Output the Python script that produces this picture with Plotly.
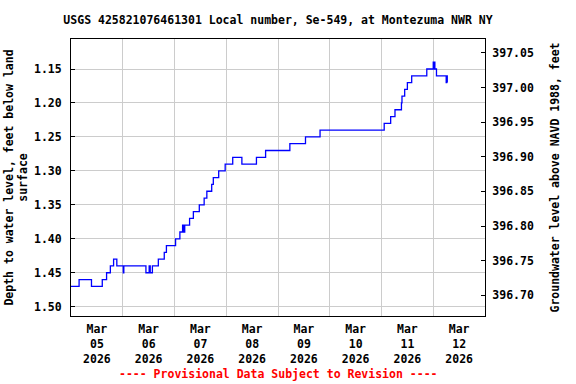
import plotly.graph_objects as go

# ---- data ----
times = [
    "2026-03-05 00:00", "2026-03-05 03:45", "2026-03-05 09:30", "2026-03-05 14:30",
    "2026-03-05 16:30", "2026-03-05 18:15", "2026-03-05 19:45", "2026-03-05 21:15",
    "2026-03-06 00:15", "2026-03-06 00:30", "2026-03-06 10:45", "2026-03-06 12:15",
    "2026-03-06 12:45", "2026-03-06 13:45", "2026-03-06 16:30", "2026-03-06 19:15",
    "2026-03-06 20:15", "2026-03-07 00:30", "2026-03-07 02:30", "2026-03-07 03:45",
    "2026-03-07 04:00", "2026-03-07 04:15", "2026-03-07 04:30", "2026-03-07 04:45",
    "2026-03-07 07:00", "2026-03-07 08:45", "2026-03-07 11:30", "2026-03-07 13:45",
    "2026-03-07 15:00", "2026-03-07 17:15", "2026-03-07 18:00", "2026-03-07 20:30",
    "2026-03-07 23:30", "2026-03-08 03:00", "2026-03-08 07:15", "2026-03-08 14:00",
    "2026-03-08 18:15", "2026-03-09 05:30", "2026-03-09 12:45", "2026-03-09 19:30",
    "2026-03-11 01:15", "2026-03-11 04:15", "2026-03-11 06:15", "2026-03-11 09:15",
    "2026-03-11 09:30", "2026-03-11 10:45", "2026-03-11 12:00", "2026-03-11 14:00",
    "2026-03-11 21:00", "2026-03-12 00:00", "2026-03-12 00:15", "2026-03-12 00:30",
    "2026-03-12 00:45", "2026-03-12 01:30", "2026-03-12 06:00", "2026-03-12 06:15",
    "2026-03-12 06:30",
]
depth_ft = [
    1.47, 1.46, 1.47, 1.46,
    1.45, 1.44, 1.43, 1.44,
    1.45, 1.44, 1.45, 1.44,
    1.45, 1.44, 1.43, 1.42,
    1.41, 1.40, 1.39, 1.38,
    1.39, 1.38, 1.39, 1.38,
    1.37, 1.36, 1.35, 1.34,
    1.33, 1.32, 1.31, 1.30,
    1.29, 1.28, 1.29, 1.28,
    1.27, 1.26, 1.25, 1.24,
    1.23, 1.22, 1.21, 1.20,
    1.19, 1.18, 1.17, 1.16,
    1.15, 1.14, 1.15, 1.14,
    1.15, 1.16, 1.17, 1.16,
    1.17,
]
left_ticks = [1.15, 1.20, 1.25, 1.30, 1.35, 1.40, 1.45, 1.50]
right_ticks = [396.70, 396.75, 396.80, 396.85, 396.90, 396.95, 397.00, 397.05]

title_text = "USGS 425821076461301 Local number, Se-549, at Montezuma NWR NY"
left_title = "Depth to water level, feet below land<br>surface"
right_title = "Groundwater level above NAVD 1988, feet"
footer = "---- Provisional Data Subject to Revision ----"

FONT = "DejaVu Sans Mono"
FS = 11.5

fig = go.Figure()
fig.add_trace(go.Scatter(
    x=times, y=depth_ft, mode="lines", line=dict(color="#0000ff", width=1.3, shape="hv"),
    showlegend=False, hoverinfo="x+y",
))
# invisible trace to activate the right-hand axis
fig.add_trace(go.Scatter(
    x=[times[0]], y=[right_ticks[0]], yaxis="y2", mode="markers",
    marker=dict(opacity=0), showlegend=False, hoverinfo="skip",
))

fig.update_layout(
    width=576, height=384,
    margin=dict(l=71, r=91, t=39, b=68, autoexpand=False),
    paper_bgcolor="white", plot_bgcolor="white",
    font=dict(family=FONT, size=FS, color="black", weight="bold"),
    title=dict(text=title_text, x=0.5, xref="paper", xanchor="center",
               y=1 - 20 / 384, yanchor="middle", automargin=False,
               font=dict(family=FONT, size=FS, color="black", weight="bold")),
    showlegend=False,
    xaxis=dict(
        type="date", range=["2026-03-05 00:00", "2026-03-13 00:00"],
        tick0="2026-03-05", dtick=86400000, ticklabelmode="period",
        tickformat="%b<br>%d<br>%Y", ticks="", showgrid=True, gridcolor="#cccccc",
        gridwidth=1, showline=True, linecolor="black", linewidth=1, mirror=True,
        tickfont=dict(family=FONT, size=FS, color="black", weight="bold"),
        ticklabelstandoff=2, zeroline=False, automargin=False,
    ),
    yaxis=dict(
        range=[1.5137, 1.1058], tickvals=left_ticks, tickformat=".2f",
        ticks="inside", ticklen=4, tickcolor="black", showgrid=True,
        gridcolor="#cccccc", gridwidth=1, showline=True, linecolor="black",
        linewidth=1, mirror=True, zeroline=False, ticklabelstandoff=6,
        automargin=False,
        tickfont=dict(family=FONT, size=FS, color="black", weight="bold"),
        title=dict(text=left_title, standoff=3,
                   font=dict(family=FONT, size=FS, color="black", weight="bold")),
    ),
    yaxis2=dict(
        overlaying="y", side="right", range=[396.670, 397.0702],
        tickvals=right_ticks, tickformat=".2f", ticks="inside", ticklen=4,
        tickcolor="black", showgrid=False, showline=True, linecolor="black",
        linewidth=1, zeroline=False, ticklabelstandoff=4, automargin=False,
        tickfont=dict(family=FONT, size=FS, color="black", weight="bold"),
        title=dict(text=right_title, standoff=18,
                   font=dict(family=FONT, size=FS, color="black", weight="bold")),
    ),
    annotations=[dict(
        text=footer, x=0.5, xref="paper", y=(316 - 374) / 277, yref="paper",
        xanchor="center", yanchor="middle", showarrow=False,
        font=dict(family=FONT, size=FS, color="#ff0000", weight="bold"),
    )],
)

fig.write_html(
    "out.html",
    config={"displayModeBar": False},
    post_script="document.body.style.margin='0';document.body.style.padding='0';",
)
